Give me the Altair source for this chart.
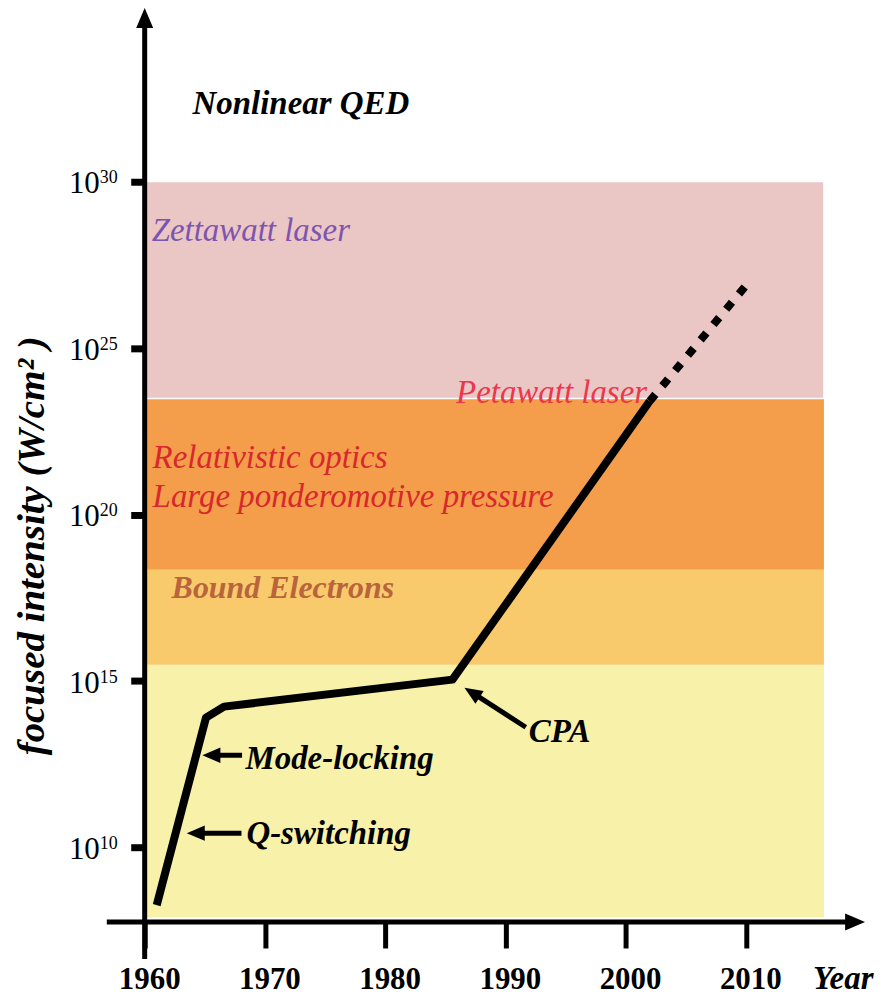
import altair as alt
import pandas as pd
import numpy as np

# ---------------- data ----------------
band_names = ["Perturbative", "Bound electrons", "Relativistic", "Ultra-relativistic"]
band_low = [7.9, 15.49, 18.34, 23.48]          # log10 intensity
band_high = [15.49, 18.34, 23.48, 30.0]
band_colors = ["#F8F1A9", "#F8CA6C", "#F49D4B", "#EAC6C4"]
band_edge = [0, 0, 0, 1.5]
band_year_start = 1960
band_year_end = 2016.5

line_years = [1961.0, 1965.1, 1966.6, 1985.6, 2002.0]
line_logI = [8.27, 13.9, 14.23, 15.04, 23.40]
proj_years = [2002.0, 2010.0]
proj_logI = [23.40, 26.87]

arrow_names = ["Mode-locking", "Q-switching", "CPA"]
arrow_tip_year = [1964.8, 1963.5, 1986.6]
arrow_tip_logI = [12.77, 10.43, 14.80]
arrow_tail_year = [1968.1, 1968.05, 1991.7]
arrow_tail_logI = [12.77, 10.43, 13.61]

black_text = ["Nonlinear QED", "Mode-locking", "Q-switching", "CPA", "Year"]
black_year = [1963.98, 1968.38, 1968.46, 1991.95, 2015.6]
black_logI = [32.03, 12.35, 10.10, 13.18, 5.755]

color_text = ["Zettawatt laser", "Petawatt laser", "Relativistic  optics",
              "Large ponderomotive pressure"]
color_year = [1960.58, 1985.9, 1960.66, 1960.66]
color_logI = [28.22, 23.34, 21.39, 20.22]
color_vals = ["#7D55AF", "#EB374B", "#D7282D", "#D7282D"]

bound_text = ["Bound Electrons"]
bound_year = [1962.24]
bound_logI = [17.50]
bound_color = "#B9643C"

year_ticks = [1960, 1970, 1980, 1990, 2000, 2010]
exp_ticks = [10, 15, 20, 25, 30]
y_title = "focused intensity (W/cm\u00b2 )"

# ---------------- scales ----------------
X_DOM = [1960, 2020]
Y_DOM = [7.762, 35.174]
W, H = 723, 915
PX_YR = W / (X_DOM[1] - X_DOM[0])
PX_DEC = H / (Y_DOM[1] - Y_DOM[0])
xs = alt.Scale(domain=X_DOM, nice=False, zero=False)
ys = alt.Scale(domain=Y_DOM, nice=False, zero=False)
FONT = "Liberation Serif"
HEAD = "M0,0L0.85,2L-0.85,2Z"

ax_x = alt.Axis(values=year_ticks, labels=False, domain=False, ticks=True,
                tickSize=26, tickWidth=5, tickColor="black", grid=False, title=None, zindex=1)
ax_y = alt.Axis(values=exp_ticks, labels=False, domain=False, ticks=True,
                tickSize=14, tickWidth=7, tickColor="black", grid=False, title=None, zindex=1)


def X(f):
    return alt.X(f, scale=xs, axis=ax_x)


def Y(f):
    return alt.Y(f, scale=ys, axis=ax_y)


bands = pd.DataFrame({"name": band_names, "lo": band_low, "hi": band_high,
                      "c": band_colors, "sw": band_edge,
                      "x0": band_year_start, "x1": band_year_end})
band_layer = alt.Chart(bands).mark_rect(stroke="white").encode(
    x=X("x0:Q"), x2="x1:Q", y=Y("lo:Q"), y2="hi:Q",
    color=alt.Color("c:N", scale=None),
    strokeWidth=alt.StrokeWidth("sw:Q", scale=None),
)

main = pd.DataFrame({"year": line_years, "logI": line_logI, "o": range(len(line_years))})
main_layer = alt.Chart(main).mark_line(color="black", strokeWidth=8, strokeJoin="round",
                                       strokeCap="butt").encode(
    x=X("year:Q"), y=Y("logI:Q"), order="o:Q")

proj = pd.DataFrame({"year": proj_years, "logI": proj_logI})
proj_layer = alt.Chart(proj).mark_line(color="black", strokeWidth=8, strokeDash=[9, 11],
                                       strokeCap="butt").encode(
    x=X("year:Q"), y=Y("logI:Q"))

# annotation arrows
arr = pd.DataFrame({"name": arrow_names, "tx": arrow_tip_year, "ty": arrow_tip_logI,
                    "sx": arrow_tail_year, "sy": arrow_tail_logI})
dxp = (arr.sx - arr.tx) * PX_YR
dyp = -(arr.sy - arr.ty) * PX_DEC
ln = np.hypot(dxp, dyp)
arr["ex"] = arr.tx + (dxp / ln * 12) / PX_YR
arr["ey"] = arr.ty - (dyp / ln * 12) / PX_DEC
arr["ang"] = (np.degrees(np.arctan2(-dxp, dyp)) + 360) % 360
shaft_layer = alt.Chart(arr).mark_rule(color="black", strokeWidth=5).encode(
    x=X("sx:Q"), y=Y("sy:Q"), x2="ex:Q", y2="ey:Q")
head_layer = alt.Chart(arr).mark_point(shape=HEAD, filled=True, color="black", opacity=1,
                                       size=324, strokeWidth=0).encode(
    x=X("tx:Q"), y=Y("ty:Q"), angle=alt.Angle("ang:Q", scale=None))

# axis lines with arrows
y_tip = 35.21
x_tip = 2019.92
axes_df = pd.DataFrame({"x": [1960, 1956.85], "y": [6.65, Y_DOM[0]],
                        "x2": [1960, x_tip - 15 / PX_YR], "y2": [y_tip - 15 / PX_DEC, Y_DOM[0]]})
axis_lines = alt.Chart(axes_df).mark_rule(color="black", strokeWidth=5).encode(
    x=X("x:Q"), y=Y("y:Q"), x2="x2:Q", y2="y2:Q")
heads_df = pd.DataFrame({"x": [1960, x_tip], "y": [y_tip, Y_DOM[0]], "ang": [0, 90]})
axis_heads = alt.Chart(heads_df).mark_point(shape=HEAD, filled=True, color="black", opacity=1,
                                           size=400, strokeWidth=0).encode(
    x=X("x:Q"), y=Y("y:Q"), angle=alt.Angle("ang:Q", scale=None))

# tick labels
yt = pd.DataFrame({"e": exp_ticks, "base": "10", "sup": [str(v) for v in exp_ticks], "x": 1960})
ytl_base = alt.Chart(yt).mark_text(font=FONT, fontSize=31, align="right", baseline="alphabetic",
                                   dx=-45, dy=12, color="black").encode(
    x=X("x:Q"), y=Y("e:Q"), text="base:N")
ytl_sup = alt.Chart(yt).mark_text(font=FONT, fontSize=18, align="left", baseline="alphabetic",
                                  dx=-45, dy=2, color="black").encode(
    x=X("x:Q"), y=Y("e:Q"), text="sup:N")
xt = pd.DataFrame({"yr": year_ticks, "lab": [str(v) for v in year_ticks], "e": 5.755})
xtl = alt.Chart(xt).mark_text(font=FONT, fontSize=31, fontWeight="bold", align="center",
                              baseline="alphabetic", dx=5, color="black").encode(
    x=X("yr:Q"), y=Y("e:Q"), text="lab:N")

# annotation texts
bt = pd.DataFrame({"t": black_text, "x": black_year, "y": black_logI})
bt_layer = alt.Chart(bt).mark_text(font=FONT, fontSize=33, fontWeight="bold", fontStyle="italic",
                                   align="left", baseline="alphabetic", color="black").encode(
    x=X("x:Q"), y=Y("y:Q"), text="t:N")
ct = pd.DataFrame({"t": color_text, "x": color_year, "y": color_logI, "c": color_vals})
ct_layer = alt.Chart(ct).mark_text(font=FONT, fontSize=33, fontStyle="italic",
                                   align="left", baseline="alphabetic").encode(
    x=X("x:Q"), y=Y("y:Q"), text="t:N", color=alt.Color("c:N", scale=None))
bd = pd.DataFrame({"t": bound_text, "x": bound_year, "y": bound_logI})
bd_layer = alt.Chart(bd).mark_text(font=FONT, fontSize=32, fontWeight="bold", fontStyle="italic",
                                   align="left", baseline="alphabetic", color=bound_color).encode(
    x=X("x:Q"), y=Y("y:Q"), text="t:N")

yt_df = pd.DataFrame({"t": [y_title], "x": [1951.65], "y": [19.06]})
ytitle = alt.Chart(yt_df).mark_text(font=FONT, fontSize=39, fontWeight="bold", fontStyle="italic",
                                    angle=270, align="center", baseline="alphabetic",
                                    color="black").encode(
    x=X("x:Q"), y=Y("y:Q"), text="t:N")

chart = alt.layer(band_layer, main_layer, proj_layer, shaft_layer, head_layer, axis_lines,
                  axis_heads, ytl_base, ytl_sup, xtl, bt_layer, ct_layer, bd_layer,
                  ytitle).properties(
    width=W, height=H,
    autosize=alt.AutoSizeParams(type="none"),
    padding={"left": 137, "top": 0, "right": 10, "bottom": 75},
    background="white",
).configure_view(stroke=None)

chart.save("out.html", embed_options={"renderer": "svg", "actions": False})
